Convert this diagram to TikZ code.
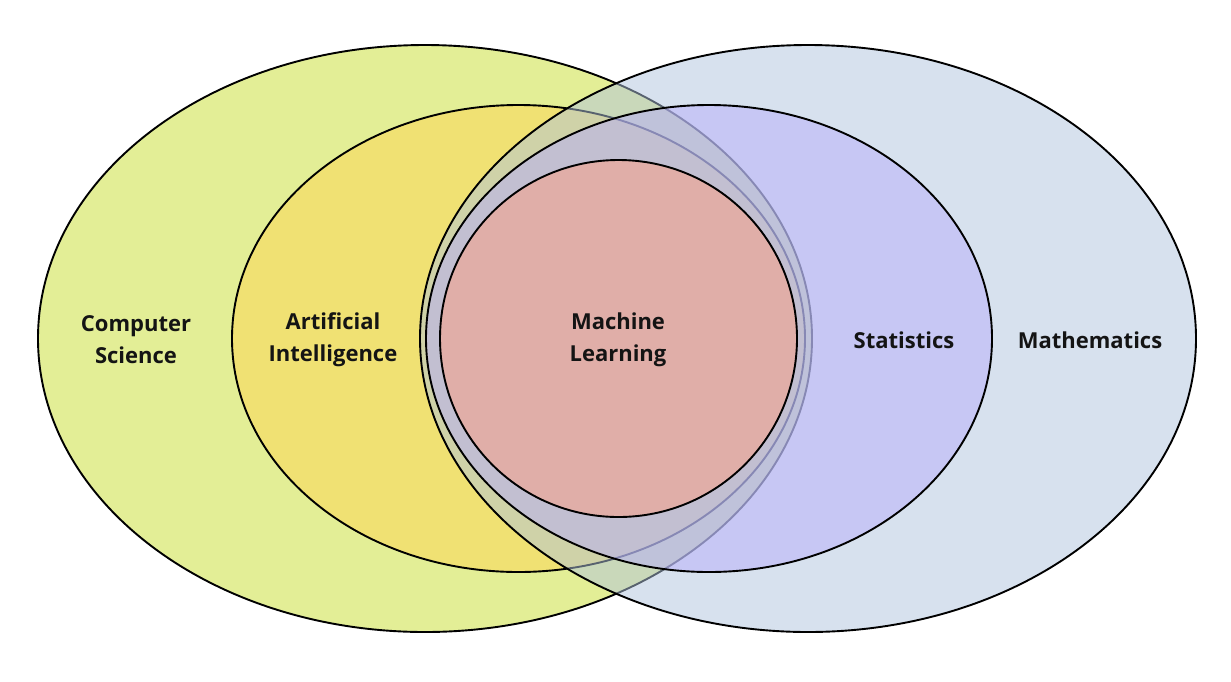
\documentclass[tikz,border=0pt]{standalone}
\usepackage{fontspec}
\setmainfont{Open Sans}
\usetikzlibrary{shapes.geometric}
\definecolor{csfill}{RGB}{227,238,150}
\definecolor{aifill}{RGB}{240,225,115}
\definecolor{mathfill}{RGB}{176,196,222}
\definecolor{statfill}{RGB}{182,174,250}
\definecolor{mlfill}{RGB}{224,174,168}
\definecolor{txt}{RGB}{20,20,20}
\tikzset{
  region/.style={ellipse, draw=black, line width=1.9pt, inner sep=0pt, outer sep=0pt},
  lbl/.style={text=txt, align=center, font=\bfseries\fontsize{22}{32}\selectfont}
}
\begin{document}
\begin{tikzpicture}[x=1pt,y=-1pt]
\useasboundingbox (0,0) rectangle (1231,681);
\node[region, fill=csfill, minimum width=774pt, minimum height=587pt] (cs) at (425,338.5) {};
\node[region, fill=aifill, minimum width=573pt, minimum height=467pt] (ai) at (518.5,338.5) {};
\node[region, fill=mathfill, fill opacity=0.5, draw opacity=1, minimum width=776pt, minimum height=587pt] (math) at (808,338.5) {};
\node[region, fill=statfill, fill opacity=0.5, draw opacity=1, minimum width=566pt, minimum height=467pt] (stat) at (709,338.5) {};
\node[region, fill=mlfill, minimum width=357pt, minimum height=357pt] (ml) at (618.5,338.5) {};
\node[lbl] (lcs) at (136,340) {Computer\\Science};
\node[lbl] (lai) at (333,340) {Artificial\\Intelligence};
\node[lbl] (lml) at (618,340) {Machine\\Learning};
\node[lbl] (lst) at (904,340) {Statistics};
\node[lbl] (lma) at (1090,340) {Mathematics};
\end{tikzpicture}
\end{document}
